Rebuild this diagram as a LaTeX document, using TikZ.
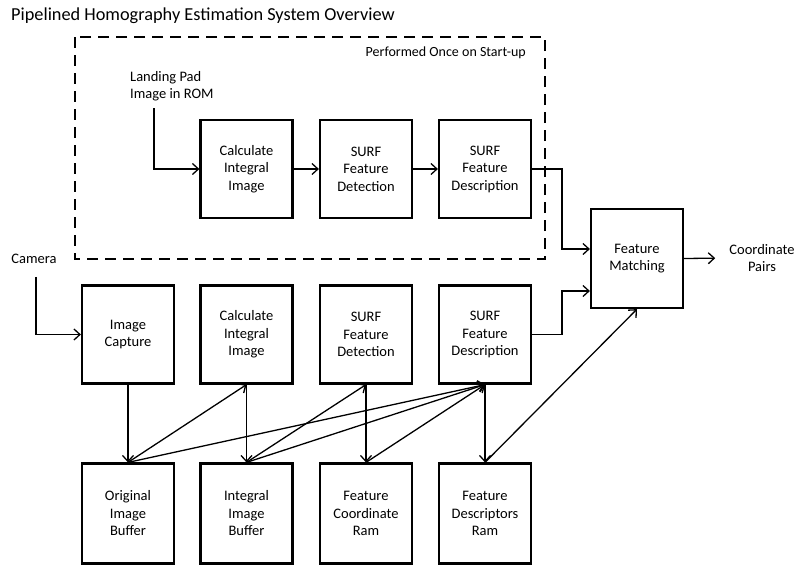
\documentclass[tikz,border=0pt]{standalone}
\usepackage{fontspec}
\setmainfont{Carlito}
\usetikzlibrary{arrows.meta}
\begin{document}
\begin{tikzpicture}[x=1pt,y=-1pt,
  every node/.style={font=\fontsize{14.5}{17.5}\selectfont},
  blk/.style={draw, line width=2.2pt, minimum width=92pt, minimum height=98pt, align=center, inner sep=2pt},
  lbl/.style={align=center, inner sep=0pt},
  arr/.style={line width=1.3pt, -{Straight Barb[length=6pt,width=11pt,line width=1.3pt]}},
  ln/.style={line width=1.3pt}
]
\useasboundingbox (0,0) rectangle (795,565);
% title
\node[lbl, anchor=west, font=\fontsize{18.3}{22}\selectfont] (title) at (11,16) {Pipelined Homography Estimation System Overview};
% dashed region
\draw[line width=2.2pt, dash pattern=on 11pt off 7pt] (75,37) rectangle (545,259);
\node[lbl, anchor=east, font=\fontsize{14}{17}\selectfont] (once) at (526,53) {Performed Once on Start-up};
% top row
\node[blk] (ci1) at (246.5,169) {Calculate\\Integral\\Image};
\node[blk] (det1) at (366,169) {SURF\\Feature\\Detection};
\node[blk] (d1) at (485,169) {SURF\\Feature\\Description};
\node[lbl, anchor=west, align=left] (lp) at (130,86) {Landing Pad\\Image in ROM};
\coordinate (lpc) at (154,108);
% middle row
\node[blk] (cap) at (128,334.5) {Image\\Capture};
\node[blk] (ci2) at (246.5,334.5) {Calculate\\Integral\\Image};
\node[blk] (det2) at (366,334.5) {SURF\\Feature\\Detection};
\node[blk] (d2) at (485,334.5) {SURF\\Feature\\Description};
\node[lbl] (cam) at (34,259) {Camera};
% bottom row
\node[blk, minimum height=100pt] (orig) at (128,513.5) {Original\\Image\\Buffer};
\node[blk, minimum height=100pt] (ib) at (246.5,513.5) {Integral\\Image\\Buffer};
\node[blk, minimum height=100pt] (fc) at (366,513.5) {Feature\\Coordinate\\Ram};
\node[blk, minimum height=100pt] (dr) at (485,513.5) {Feature\\Descriptors\\Ram};
% feature matching
\node[blk, minimum height=99pt] (fm) at (637,258.5) {Feature\\Matching};
\node[lbl] (cp) at (762,258) {Coordinate\\Pairs};
% top flow
\draw[arr] (lpc) |- (ci1.west);
\draw[arr] (ci1) -- (det1);
\draw[arr] (det1) -- (d1);
\draw[arr] (d1.east) -- ++(30,0) |- ([yshift=9.5pt]fm.west);
% middle flow
\draw[arr] ([yshift=-13pt]cam.south -| 36,0) |- (cap.west);
\draw[arr] (d2.east) -- ++(30,0) |- ([yshift=-32.5pt]fm.west);
\draw[arr, shorten >=14pt] (fm.east) -- (cp.west);
% memory connections
\draw[arr] (cap.south) -- (orig.north);
\draw[arr] (orig.north) -- (ci2.south);
\draw[arr] (ci2.south) -- (ib.north);
\draw[arr] (orig.north) -- (d2.south);
\draw[arr] (ib.north) -- (det2.south);
\draw[arr] (ib.north) -- (d2.south);
\draw[arr] (det2.south) -- (fc.north);
\draw[arr] (fc.north) -- (d2.south);
\draw[arr] (d2.south) -- (dr.north);
\draw[arr] (dr.north) -- (fm.south);
\end{tikzpicture}
\end{document}
